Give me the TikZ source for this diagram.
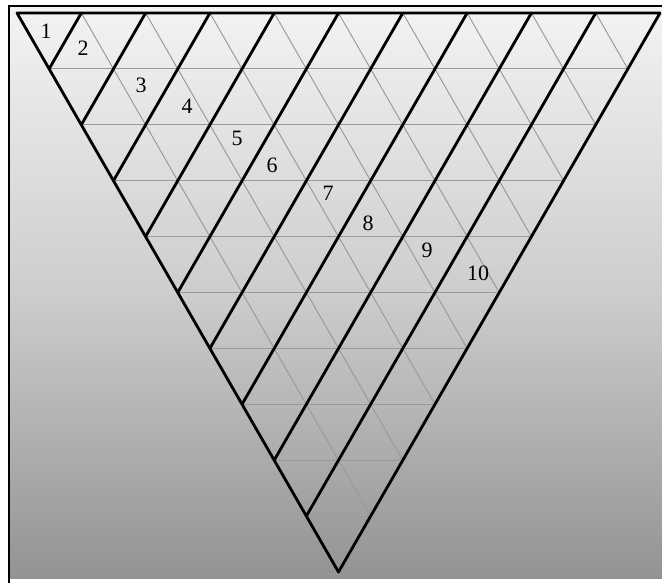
\documentclass[tikz,border=0pt]{standalone}
\usepackage{fontspec}
\setmainfont{Liberation Serif}
\usetikzlibrary{calc}
\definecolor{bgtop}{HTML}{F3F3F3}
\definecolor{bgmid}{HTML}{CDCDCD}
\definecolor{bgbot}{HTML}{939393}
\definecolor{gridgray}{HTML}{9A9A9A}
\begin{document}
\begin{tikzpicture}[x=0.02cm, y=-0.02cm,
  frame/.style={line width=1.3pt, black},
  thin/.style={draw=gridgray, line width=0.55pt},
  thick/.style={draw=black, line width=1.6pt, line cap=round, line join=round},
  num/.style={font=\fontsize{12.5}{14}\selectfont, inner sep=0pt}]

\useasboundingbox (0,0) rectangle (662,583);
\shade[top color=bgtop, bottom color=bgbot, middle color=bgmid] (10,7) rectangle (662,578);
\draw[frame] (9,583) -- (9,6) -- (662,6);

\coordinate (tl) at (17,13);
\coordinate (tr) at (660,13);
\coordinate (bot) at (338.5,572);

% thin grid
\foreach \j in {1,...,9}
  \draw[thin] ($(tl)!\j/10!(bot)$) -- ($(tr)!\j/10!(bot)$);
\foreach \k in {1,...,9}
  \draw[thin] ($(tl)!\k/10!(tr)$) -- ($(tr)!{(10-\k)/10}!(bot)$);

% thick lines
\draw[thick] (tl) -- (tr) -- (bot) -- cycle;
\foreach \k in {1,...,9}
  \draw[thick] ($(tl)!\k/10!(tr)$) -- ($(tl)!\k/10!(bot)$);

\node[num] (lab1) at (46,31) {1};
\node[num] (lab2) at (83,48) {2};
\node[num] (lab3) at (141,85) {3};
\node[num] (lab4) at (187,106) {4};
\node[num] (lab5) at (237,138) {5};
\node[num] (lab6) at (272,165) {6};
\node[num] (lab7) at (328,193) {7};
\node[num] (lab8) at (368,223) {8};
\node[num] (lab9) at (427,250) {9};
\node[num] (lab10) at (478,273) {10};

\end{tikzpicture}
\end{document}
